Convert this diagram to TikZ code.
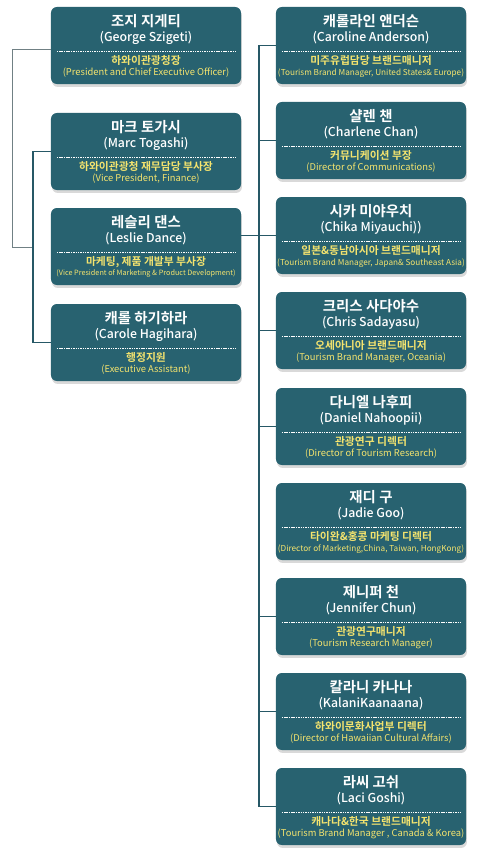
\documentclass[tikz,border=0pt]{standalone}
\usepackage{fontspec}
\setmainfont{Noto Sans CJK KR}[BoldFont={Noto Sans CJK KR Bold}]
\newfontfamily\medfont{Noto Sans CJK KR Medium}
\usetikzlibrary{calc,shadows}
\definecolor{boxteal}{RGB}{40,98,112}
\definecolor{lineteal}{RGB}{38,88,102}
\definecolor{linegray}{RGB}{112,128,132}
\definecolor{titleyel}{RGB}{245,228,110}
\tikzset{x=.03cm,y=-.03cm,
staffbox/.style={fill=boxteal,rounded corners=5pt,minimum width=5.7cm,minimum height=2.31cm,inner sep=0pt,drop shadow={shadow xshift=.8pt,shadow yshift=-2.5pt,opacity=.3}},
kname/.style={font=\bfseries\fontsize{12.3}{14}\selectfont,text=white,inner sep=0pt},
ename/.style={font=\medfont\fontsize{10.5}{12}\selectfont,text=white,inner sep=0pt},
ktitle/.style={font=\bfseries\fontsize{9.2}{10}\selectfont,text=titleyel,inner sep=0pt},
etitle/.style={font=\fontsize{8}{9}\selectfont,text=titleyel,inner sep=0pt},
sepline/.style={white,line width=.5pt,dash pattern=on 1.2pt off .8pt},
link/.style={lineteal,line width=1.4pt},toplink/.style={linegray,line width=.8pt}}
\begin{document}
\begin{tikzpicture}
\useasboundingbox (0,0) rectangle (489,868);
\foreach \nm/\bx/\ty/\kn/\en/\kt/\et in {
george/146/7/조지 지게티/(George Szigeti)/하와이관광청장/(President and Chief Executive Officer),
marc/146/113/마크 토가시/(Marc Togashi)/하와이관광청 재무담당 부사장/{(Vice President, Finance)},
leslie/146/208/레슬리 댄스/(Leslie Dance)/{마케팅, 제품 개발부 부사장}/{\fontsize{6.2}{7}\selectfont(Vice President of Marketing \& Product Development)},
carole/146/304/캐롤 하기하라/(Carole Hagihara)/행정지원/(Executive Assistant),
caroline/371/7/캐롤라인 앤더슨/(Caroline Anderson)/미주유럽담당 브랜드매니저/{\fontsize{7}{8}\selectfont(Tourism Brand Manager, United States\& Europe)},
charlene/371/102/샬렌 챈/(Charlene Chan)/커뮤니케이션 부장/(Director of Communications),
chika/371/197/시카 미야우치/(Chika Miyauchi))/일본\&동남아시아 브랜드매니저/{\fontsize{7}{8}\selectfont(Tourism Brand Manager, Japan\& Southeast Asia)},
chris/371/292/크리스 사다야수/(Chris Sadayasu)/오세아니아 브랜드매니저/{(Tourism Brand Manager, Oceania)},
daniel/371/388/다니엘 나후피/(Daniel Nahoopii)/관광연구 디렉터/(Director of Tourism Research),
jadie/371/483/재디 구/(Jadie Goo)/타이완\&홍콩 마케팅 디렉터/{\fontsize{7}{8}\selectfont(Director of Marketing,China, Taiwan, HongKong)},
jennifer/371/578/제니퍼 천/(Jennifer Chun)/관광연구매니저/(Tourism Research Manager),
kalani/371/673/칼라니 카나나/(KalaniKaanaana)/하와이문화사업부 디렉터/(Director of Hawaiian Cultural Affairs),
laci/371/768/라씨 고쉬/(Laci Goshi)/캐나다\&한국 브랜드매니저/{(Tourism Brand Manager , Canada \& Korea)}}{
\node[staffbox] (\nm) at (\bx,\ty+38.5) {};
\node[kname] (\nm-kn) at ($(\nm.north)+(0,14)$) {\kn};
\node[ename] (\nm-en) at ($(\nm.north)+(0,31)$) {\en};
\draw[sepline] ($(\nm.north west)+(6,45)$)--($(\nm.north east)+(-6,45)$);
\node[ktitle] (\nm-kt) at ($(\nm.north)+(0,54)$) {\kt};
\node[etitle] (\nm-et) at ($(\nm.north)+(0,66)$) {\et};}
\coordinate (ljoin) at (33,247);
\draw[toplink] ($(george.west)+(0,4)$)--++(-38,0)|-(ljoin);
\draw[link] (marc.west)--++(-18,0)|-(carole.west);
\draw[link] (caroline.west)--++(-17,0)|-(laci.west);
\foreach \nm in {charlene,chris,daniel,jennifer,kalani}{\draw[link] (\nm.west)--++(-17,0);}
\draw[link] (chika.west)--(chika.west-|leslie.east);
\end{tikzpicture}
\end{document}
